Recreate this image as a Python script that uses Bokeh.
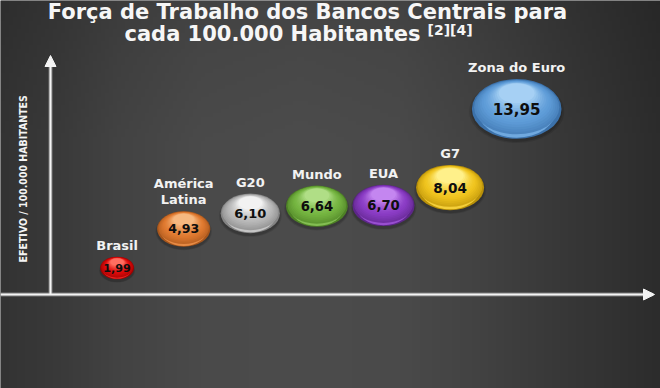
import math
import numpy as np
from bokeh.plotting import figure
from bokeh.models import Range1d, Arrow, NormalHead, Label, ColumnDataSource
from bokeh.core.properties import value
from bokeh.embed import file_html
from bokeh.resources import INLINE

# ---------------- data ----------------
categories = ["Brasil", "América\nLatina", "G20", "Mundo", "EUA", "G7", "Zona do Euro"]
values = [1.99, 4.93, 6.10, 6.64, 6.70, 8.04, 13.95]
value_labels = ["1,99", "4,93", "6,10", "6,64", "6,70", "8,04", "13,95"]
base_colors = ["#dc0a0a", "#e07a30", "#b8b8b8", "#74b440", "#8a3cc4", "#f0c41e", "#5e9cd8"]
light_colors = ["#ff6e60", "#f6b880", "#f2f2f2", "#b0de86", "#c486f0", "#fff08a", "#a6d0f4"]
dark_colors = ["#800000", "#8e4614", "#6e6e6e", "#3e6c1a", "#4a1c70", "#a07a00", "#2e6098"]
title_line1 = "Força de Trabalho dos Bancos Centrais para"
title_line2 = "cada 100.000 Habitantes"
title_refs = "[2][4]"
y_axis_title = "EFETIVO / 100.000 HABITANTES"

# ---------------- layout ----------------
W, H = 660, 388
X0_PX, X_STEP = 50.0, 66.6     # pixel of x=0, px per slot
Y0_PX, Y_STEP = 294.0, 13.3    # pixel (from top) of value 0, px per unit
BW, BH = 24.0, 16.0            # bubble width/height factor (screen px per sqrt(value))

p = figure(width=W, height=H, output_backend="svg", toolbar_location=None,
           x_range=Range1d(-X0_PX / X_STEP, (W - X0_PX) / X_STEP),
           y_range=Range1d(-(H - Y0_PX) / Y_STEP, Y0_PX / Y_STEP),
           x_axis_location=None, y_axis_location=None, min_border=0,
           outline_line_color=None, background_fill_color="#444444",
           border_fill_color="#444444")
p.grid.visible = False


def hex2rgb(h):
    h = h.lstrip("#")
    return np.array([int(h[i:i + 2], 16) for i in (0, 2, 4)], dtype=float)


def rgb2hex(c):
    c = np.clip(np.round(c), 0, 255).astype(int)
    return "#%02x%02x%02x" % tuple(c)


def lerp(a, b, t):
    return rgb2hex(hex2rgb(a) + (hex2rgb(b) - hex2rgb(a)) * t)


# ---------------- background gradient ----------------
xs_px = np.arange(0, W, 4) + 2
stops_x = [0, 60, 120, 200, 300, 400, 480, 560, 620, 660]
stops_l = [0x33, 0x3a, 0x43, 0x4a, 0x4c, 0x4a, 0x42, 0x38, 0x31, 0x2c]
prof = np.interp(xs_px, stops_x, stops_l)
ys_px = np.arange(0, H, 4) + 2
vfac = np.interp(ys_px, [0, 60, 140, H], [0.90, 0.95, 1.0, 1.0])
img = np.empty((len(ys_px), len(xs_px)), dtype=np.uint32)
view = img.view(dtype=np.uint8).reshape((len(ys_px), len(xs_px), 4))
lum = (vfac[::-1, None] * prof[None, :]).astype(np.uint8)
view[:, :, 0] = lum
view[:, :, 1] = lum
view[:, :, 2] = lum
view[:, :, 3] = 255
xr, yr = p.x_range, p.y_range
p.image_rgba(image=[img], x=xr.start, y=yr.start, dw=xr.end - xr.start, dh=yr.end - yr.start)

# ---------------- axes (arrows) ----------------
p.segment(x0=[xr.start, 0], y0=[0, 0], x1=[xr.end - 8 / X_STEP, 0], y1=[0, yr.end - 60 / Y_STEP],
          line_color="#8a8a8a", line_width=4, line_alpha=0.8)
p.add_layout(Arrow(end=NormalHead(size=11, fill_color="#f4f4f4", line_color="#f4f4f4"),
                   x_start=xr.start, y_start=0, x_end=xr.end - 6 / X_STEP, y_end=0,
                   line_color="#f4f4f4", line_width=2))
p.add_layout(Arrow(end=NormalHead(size=11, fill_color="#f4f4f4", line_color="#f4f4f4"),
                   x_start=0, y_start=0, x_end=0, y_end=yr.end - 55 / Y_STEP,
                   line_color="#f4f4f4", line_width=2))

# ---------------- bubbles (layered shading) ----------------
xpos = list(range(1, len(values) + 1))
lx, ly, lw, lh, lc, la = [], [], [], [], [], []
N = 14
for xi, v, cb, cl, cd in zip(xpos, values, base_colors, light_colors, dark_colors):
    w, h = BW * math.sqrt(v), BH * math.sqrt(v)
    # soft drop shadow
    for s, a in ((1.06, 0.10), (1.02, 0.14)):
        lx.append(xi); ly.append(v - 2.5 / Y_STEP); lw.append(w * s); lh.append(h * s)
        lc.append("#000000"); la.append(a)
    # rim
    lx.append(xi); ly.append(v); lw.append(w); lh.append(h); lc.append(lerp(cd, cb, 0.3)); la.append(1.0)
    # bottom reflection
    lx.append(xi); ly.append(v - 0.01 * h / Y_STEP); lw.append(w * 0.88); lh.append(h * 0.94)
    lc.append(lerp(cb, cl, 0.25)); la.append(1.0)
    mid_dark = lerp(cd, cb, 0.6)
    for k in range(N):
        t = k / (N - 1)
        sw = 0.95 - 0.55 * t
        sh = 0.91 - 0.58 * t
        off = (0.03 + (0.91 - sh) * 0.5 * 0.8) * h
        if t < 0.35:
            col = lerp(mid_dark, cb, t / 0.35)
        else:
            col = lerp(cb, cl, ((t - 0.35) / 0.65) ** 1.4)
        lx.append(xi); ly.append(v + off / Y_STEP); lw.append(w * sw); lh.append(h * sh); lc.append(col); la.append(1.0)

p.ellipse(x=lx, y=ly, width=lw, height=lh, width_units="screen", height_units="screen",
          fill_color=lc, fill_alpha=la, line_color=None)

# ---------------- value labels ----------------
vsrc = ColumnDataSource(dict(
    x=xpos, y=values, t=value_labels,
    fs=["%.1fpx" % (8.8 + 1.7 * math.sqrt(v)) for v in values]))
p.text(x="x", y="y", text="t", source=vsrc, text_font=value("DejaVu Sans"), text_font_style="bold",
       text_font_size="fs", text_color="#0e0e0e", text_align="center", text_baseline="middle")

# ---------------- category labels ----------------
csrc = ColumnDataSource(dict(
    x=xpos, y=[v + (BH * math.sqrt(v) / 2 + 4) / Y_STEP for v in values], t=categories))
p.text(x="x", y="y", text="t", source=csrc, text_font=value("DejaVu Sans"), text_font_style="bold",
       text_font_size="13px", text_color="#f2f2f2", text_align="center", text_baseline="bottom",
       text_line_height=1.1)

# ---------------- titles ----------------
p.add_layout(Label(x=307, y=H - 11, x_units="screen", y_units="screen", text=title_line1,
                   text_font="DejaVu Sans", text_font_style="bold", text_font_size="21px",
                   text_color="#f6f6f6", text_align="center", text_baseline="alphabetic"))
p.add_layout(Label(x=420, y=H - 33.5, x_units="screen", y_units="screen", text=title_line2,
                   text_font="DejaVu Sans", text_font_style="bold", text_font_size="21px",
                   text_color="#f6f6f6", text_align="right", text_baseline="alphabetic"))
p.add_layout(Label(x=427, y=H - 29, x_units="screen", y_units="screen", text=title_refs,
                   text_font="DejaVu Sans", text_font_style="bold", text_font_size="14px",
                   text_color="#f6f6f6", text_align="left", text_baseline="alphabetic"))
p.add_layout(Label(x=22.3, y=H - 178.3, x_units="screen", y_units="screen", text=y_axis_title,
                   angle=math.pi / 2, text_font="DejaVu Sans Condensed", text_font_style="bold",
                   text_font_size="10.5px", text_color="#f4f4f4", text_align="center",
                   text_baseline="middle"))

open("out.html", "w").write(file_html(p, INLINE))
